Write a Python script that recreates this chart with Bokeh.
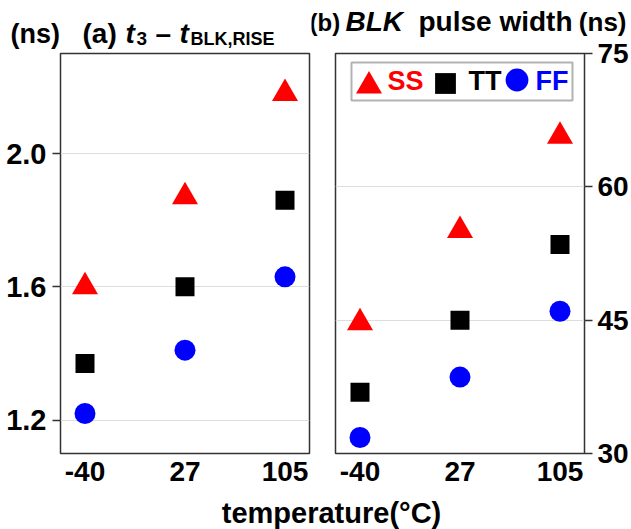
from bokeh.plotting import figure
from bokeh.models import (FactorRange, Range1d, FixedTicker, Label, Legend,
                          LegendItem, BoxAnnotation, NumeralTickFormatter)
from bokeh.layouts import column, row
from bokeh.embed import file_html
from bokeh.resources import INLINE

# ---------------- data ----------------
temps = ["-40", "27", "105"]

# (a) t3 - tBLK,RISE  (ns)
rise_ss = [1.60, 1.87, 2.18]
rise_tt = [1.37, 1.60, 1.86]
rise_ff = [1.22, 1.41, 1.63]

# (b) BLK pulse width (ns)
pw_ss = [44.7, 55.1, 65.7]
pw_tt = [36.9, 45.0, 53.5]
pw_ff = [31.8, 38.6, 46.0]

left_ticks = [1.2, 1.6, 2.0]
right_ticks = [30, 45, 60, 75]

corners = ["SS", "TT", "FF"]
corner_colors = ["red", "black", "blue"]

FONT = "Liberation Sans"
EDGE = "#333333"
GRID = "#dddddd"
BASE_SHIFT = 0.35   # measured offset of the rendered alphabetic baseline (em)


def strip(width, height):
    s = figure(width=width, height=height, output_backend="svg",
               toolbar_location=None, x_axis_location=None,
               y_axis_location=None, min_border=0, outline_line_color=None)
    s.background_fill_color = "white"
    s.border_fill_color = "white"
    return s


def base_panel(width, height, mb_left, mb_right, mb_top, y_start, y_end, yloc):
    p = figure(width=width, height=height,
               x_range=FactorRange(factors=temps, range_padding=-0.17),
               y_range=Range1d(y_start, y_end),
               y_axis_location=yloc,
               output_backend="svg", toolbar_location=None,
               min_border_left=mb_left, min_border_right=mb_right,
               min_border_top=mb_top, min_border_bottom=44)
    p.outline_line_color = EDGE
    p.outline_line_width = 1.5
    p.background_fill_color = "white"
    p.border_fill_color = "white"
    p.xgrid.visible = False
    p.ygrid.grid_line_color = GRID
    p.ygrid.grid_line_width = 1
    ax = p.xaxis[0]
    ax.axis_line_color = None
    ax.major_tick_line_color = None
    ax.major_tick_out = 0
    ax.major_tick_in = 0
    ax.minor_tick_line_color = None
    ax.major_label_standoff = 8
    ax.major_label_text_font = FONT
    ax.major_label_text_font_style = "bold"
    ax.major_label_text_font_size = "28px"
    ax.major_label_text_color = "black"
    ay = p.yaxis[0]
    ay.axis_line_color = None
    ay.major_tick_line_color = EDGE
    ay.major_tick_line_width = 1.5
    ay.major_tick_in = 0
    ay.major_tick_out = 8
    ay.minor_tick_line_color = None
    ay.major_label_text_font = FONT
    ay.major_label_text_font_style = "bold"
    ay.major_label_text_color = "black"
    return p


def add_label(p, x, y, text, size, style="bold", align="left", color="black"):
    # y: wanted baseline height above the frame bottom (px)
    p.add_layout(Label(x=x, y=y + BASE_SHIFT * size, x_units="screen", y_units="screen",
                       text=text, text_font=FONT, text_font_style=style,
                       text_font_size=f"{size}px", text_color=color,
                       text_align=align, text_baseline="alphabetic"))


# ---------------- title of (a) ----------------
tl = strip(311, 51)
add_label(tl, 10, 8.5, "(ns)", 27)
add_label(tl, 82, 8.5, "(a)", 28)
add_label(tl, 125, 8.5, "t", 28, "bold italic")
add_label(tl, 136, 6, "3", 19)
add_label(tl, 155, 8.5, "\u2013", 28)
add_label(tl, 179, 8.5, "t", 28, "bold italic")
add_label(tl, 190, 6, "BLK,RISE", 18)

# ---------------- title of (b) ----------------
tr = strip(320, 37)
add_label(tr, -2, 6.5, "(b)", 24)
add_label(tr, 34, 6.5, "BLK", 28, "bold italic")
add_label(tr, 107, 6.5, "pulse width", 28)
add_label(tr, 315, 6.5, "(ns)", 26, align="right")

# ---------------- panel (a) ----------------
p1 = base_panel(311, 446, 60, 2, 2, 1.1, 2.3, "left")
p1.yaxis[0].ticker = FixedTicker(ticks=left_ticks)
p1.yaxis[0].formatter = NumeralTickFormatter(format="0.0")
p1.yaxis[0].major_label_standoff = 6
p1.yaxis[0].major_label_text_font_size = "29px"

p1.scatter(temps, rise_ss, marker="triangle", size=26, fill_color="red", line_color=None)
p1.scatter(temps, rise_tt, marker="square", size=19, fill_color="black", line_color=None)
p1.scatter(temps, rise_ff, marker="circle", size=21, fill_color="blue", line_color=None)

# ---------------- panel (b) ----------------
p2 = base_panel(320, 460, 24, 46, 16, 30, 75, "right")
p2.yaxis[0].ticker = FixedTicker(ticks=right_ticks)
p2.yaxis[0].major_label_standoff = 5
p2.yaxis[0].major_label_text_font_size = "28px"

r_ss = p2.scatter(temps, pw_ss, marker="triangle", size=26, fill_color="red", line_color=None)
r_tt = p2.scatter(temps, pw_tt, marker="square", size=19, fill_color="black", line_color=None)
r_ff = p2.scatter(temps, pw_ff, marker="circle", size=21, fill_color="blue", line_color=None)

# legend: glyphs from Legend, coloured names as labels inside the box
legend_specs = [
    (r_ss, 65, (0.5, 335)),
    (r_tt, 52, (84, 344.5)),
    (r_ff, 57, (153, 345)),
]
for rend, g, loc in legend_specs:
    lg = Legend(items=[LegendItem(label="", renderers=[rend])], location=loc,
                glyph_width=g, glyph_height=g, label_standoff=0, label_width=0,
                padding=0, margin=0, border_line_color=None,
                background_fill_alpha=0)
    p2.add_layout(lg)

for name, col, lx in zip(corners, corner_colors, [52, 133, 200]):
    add_label(p2, lx, 363.5, name, 27, color=col)

p2.add_layout(BoxAnnotation(left=16, right=237, top=391, bottom=353,
                            left_units="screen", right_units="screen",
                            top_units="screen", bottom_units="screen",
                            fill_color=None, line_color="black", line_width=2))

# ---------------- shared x-axis title ----------------
p3 = strip(631, 32)
add_label(p3, 331, 6, "temperature(\u00b0C)", 29, align="center")

left = column(row(tl), p1)
right = column(row(tr), p2)
layout = column(row(left, right), p3)
open("out.html", "w").write(file_html(layout, INLINE))
